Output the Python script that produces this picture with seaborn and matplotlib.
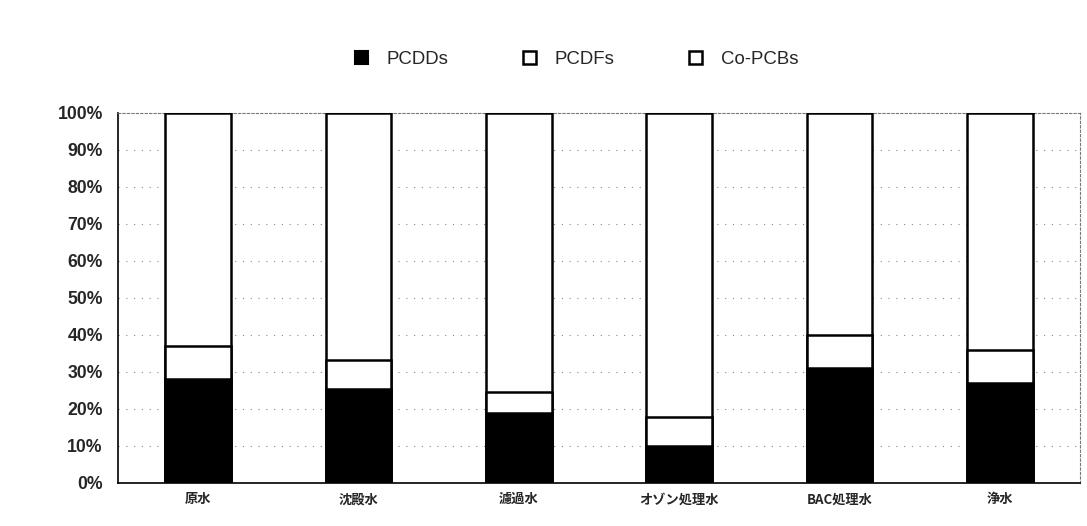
import matplotlib
matplotlib.use("Agg")
import matplotlib.pyplot as plt
from matplotlib.patches import Patch
import seaborn as sns
import pandas as pd

categories = ["原水", "沈殿水", "濾過水", "オゾン処理水", "BAC処理水", "浄水"]
pcdds = [28.1, 25.2, 18.8, 9.9, 30.9, 26.9]
pcdfs = [8.7, 7.9, 5.7, 7.9, 8.9, 9.0]
co_pcbs = [100 - a - b for a, b in zip(pcdds, pcdfs)]
series_names = ["PCDDs", "PCDFs", "Co-PCBs"]
yticks = list(range(0, 101, 10))

sns.set_style("white")
plt.rcParams['font.family'] = ['Noto Sans CJK JP', 'DejaVu Sans']

df = pd.DataFrame({"cat": categories, "PCDDs": pcdds, "PCDFs": pcdfs, "Co-PCBs": co_pcbs})
df["lvl2"] = df["PCDDs"] + df["PCDFs"]
df["lvl3"] = df["lvl2"] + df["Co-PCBs"]

fig = plt.figure(figsize=(10.87, 5.26), dpi=100)
ax = fig.add_axes([0.1086, 0.0825, 0.885, 0.7035])

for ycol, fc in [("lvl3", "white"), ("lvl2", "white"), ("PCDDs", "black")]:
    sns.barplot(data=df, x="cat", y=ycol, order=categories, color=fc, width=0.41,
                edgecolor="black", linewidth=1.8, saturation=1, ax=ax, zorder=3)

ax.set_ylim(0, 100)
ax.set_xlim(-0.5, len(categories) - 0.5)
ax.set_yticks(yticks)
ax.set_yticklabels([f"{v}%" for v in yticks], fontsize=12.7, fontweight="bold",
                   family=["Liberation Sans", "DejaVu Sans"])
ax.set_xticks(range(len(categories)))
ax.set_xticklabels(categories, fontsize=9.5, fontweight="bold")
ax.tick_params(axis="x", length=0, pad=7)
ax.tick_params(axis="y", length=0, pad=11)
ax.set_xlabel("")
ax.set_ylabel("")

for v in yticks[1:-1]:
    ax.axhline(v, color="#888888", lw=0.8, ls=(0, (1, 6)), zorder=1)

for side in ["left", "bottom"]:
    ax.spines[side].set_color("black")
    ax.spines[side].set_linewidth(1.2)
for side in ["top", "right"]:
    ax.spines[side].set_color("#777777")
    ax.spines[side].set_linewidth(0.8)
    ax.spines[side].set_linestyle((0, (2, 2)))

handles = [Patch(facecolor="black", edgecolor="black", lw=1.5),
           Patch(facecolor="white", edgecolor="black", lw=1.8),
           Patch(facecolor="white", edgecolor="black", lw=1.8)]
fig.legend(handles, series_names, loc="center", bbox_to_anchor=(0.5304, 0.887), ncol=3,
           frameon=False, handlelength=0.7, handleheight=0.7, handletextpad=1.0,
           columnspacing=4.0, borderaxespad=0, borderpad=0,
           prop={"family": ["Liberation Sans", "DejaVu Sans"], "size": 13.4})

fig.savefig("out.png", dpi=100)
